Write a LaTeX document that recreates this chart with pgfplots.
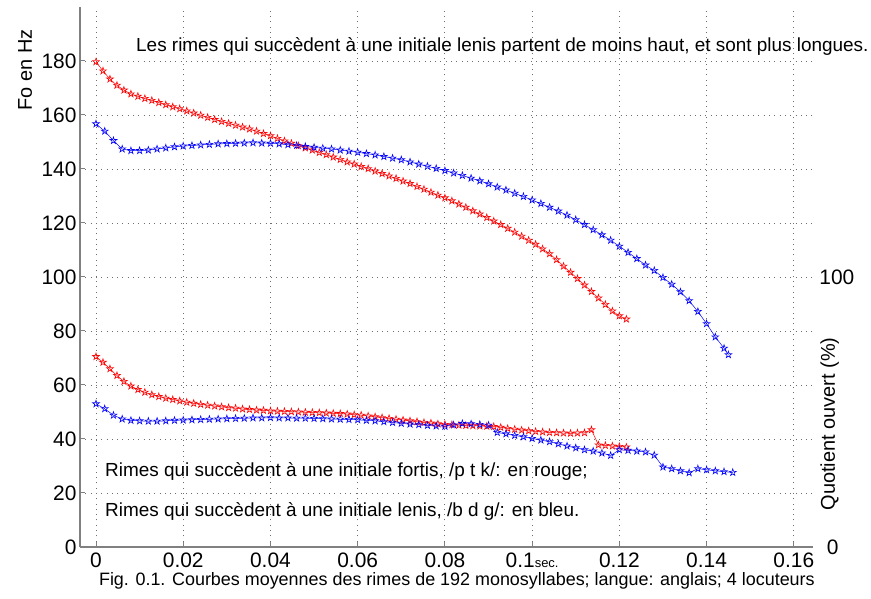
\documentclass[border=0pt]{standalone}
\usepackage{pgfplots}
\pgfplotsset{compat=1.18}
\usepackage{fontspec}
\setmainfont{Liberation Sans}
\definecolor{axgray}{RGB}{128,128,128}
\definecolor{gridgray}{RGB}{110,110,110}
\definecolor{mred}{RGB}{255,0,0}
\definecolor{mblue}{RGB}{0,0,255}
\pgfdeclareplotmark{pentagram}{%
  \pgfpathmoveto{\pgfpointpolar{90}{\pgfplotmarksize}}%
  \pgfpathlineto{\pgfpointpolar{126}{0.382\pgfplotmarksize}}%
  \pgfpathlineto{\pgfpointpolar{162}{\pgfplotmarksize}}%
  \pgfpathlineto{\pgfpointpolar{198}{0.382\pgfplotmarksize}}%
  \pgfpathlineto{\pgfpointpolar{234}{\pgfplotmarksize}}%
  \pgfpathlineto{\pgfpointpolar{270}{0.382\pgfplotmarksize}}%
  \pgfpathlineto{\pgfpointpolar{306}{\pgfplotmarksize}}%
  \pgfpathlineto{\pgfpointpolar{342}{0.382\pgfplotmarksize}}%
  \pgfpathlineto{\pgfpointpolar{18}{\pgfplotmarksize}}%
  \pgfpathlineto{\pgfpointpolar{54}{0.382\pgfplotmarksize}}%
  \pgfpathclose
  \pgfusepathqstroke
}
\begin{document}
\begin{tikzpicture}
\path[use as bounding box] (0,0) rectangle (871bp,599bp);
\begin{axis}[
  at={(80bp,52bp)}, anchor=south west,
  scale only axis, width=733bp, height=540bp,
  xmin=-0.00367, xmax=0.1644, ymin=0, ymax=200,
  axis x line*=bottom, axis y line*=left,
  axis line style={-, axgray, line width=1.4bp},
  xtick={0,0.02,0.04,0.06,0.08,0.1,0.12,0.14,0.16},
  xticklabels={0,0.02,0.04,0.06,0.08,{0.1{\fontsize{13}{15}\selectfont sec.}},0.12,0.14,0.16},
  ytick={0,20,40,60,80,100,120,140,160,180},
  yticklabels={0,20,40,60,80,100,120,140,160,180},
  tick align=inside, major tick length=5bp,
  tick style={axgray, line width=1bp},
  ticklabel style={font=\fontsize{21}{25}\selectfont},
  xticklabel style={yshift=-2bp},
  grid=major,
  major grid style={gridgray, line width=0.9bp, dash pattern=on 1bp off 4.3bp},
  clip=false,
  every axis plot/.append style={line width=0.5bp, mark=pentagram, mark size=3.6bp, mark options={line width=0.6bp}},
]
\addplot[mred] coordinates {
(0,179.7) (0.0016,176.3) (0.0032,173.3) (0.0048,171.0) (0.0064,169.2) (0.0080,167.8) (0.0096,166.9) (0.0112,166.1)
(0.0128,165.4) (0.0144,164.6) (0.0160,163.8) (0.0176,163.0) (0.0192,162.3) (0.0208,161.5) (0.0224,160.7) (0.0240,159.9)
(0.0256,159.1) (0.0272,158.3) (0.0288,157.6) (0.0304,156.9) (0.0320,156.2) (0.0336,155.5) (0.0352,154.8) (0.0368,154.0)
(0.0384,153.1) (0.0400,152.3) (0.0416,151.3) (0.0432,150.4) (0.0448,149.5) (0.0464,148.6) (0.0480,147.8) (0.0496,147.0)
(0.0512,146.1) (0.0528,145.3) (0.0544,144.4) (0.0560,143.5) (0.0576,142.6) (0.0592,141.8) (0.0608,140.9) (0.0624,140.1)
(0.0640,139.2) (0.0656,138.3) (0.0672,137.4) (0.0688,136.5) (0.0704,135.5) (0.0720,134.6) (0.0736,133.5) (0.0752,132.5)
(0.0768,131.4) (0.0784,130.3) (0.0800,129.3) (0.0816,128.2) (0.0832,127.0) (0.0848,125.8) (0.0864,124.5) (0.0880,123.3)
(0.0896,122.0) (0.0912,120.7) (0.0928,119.4) (0.0944,118.0) (0.0960,116.6) (0.0976,115.1) (0.0992,113.6) (0.1008,112.1)
(0.1024,110.4) (0.1040,108.6) (0.1056,106.4) (0.1072,104.0) (0.1088,101.7) (0.1104,99.4) (0.1120,97.0) (0.1136,94.6)
(0.1152,92.2) (0.1168,89.8) (0.1184,87.4) (0.1200,85.6) (0.1216,84.4)
};
\addplot[mred] coordinates {
(0,70.5) (0.0016,68.4) (0.0032,66.0) (0.0048,63.5) (0.0064,61.3) (0.0080,59.6) (0.0096,58.3) (0.0112,57.3)
(0.0128,56.4) (0.0144,55.7) (0.0160,55.1) (0.0176,54.6) (0.0192,54.1) (0.0208,53.6) (0.0224,53.2) (0.0240,52.8)
(0.0256,52.5) (0.0272,52.2) (0.0288,51.9) (0.0304,51.6) (0.0320,51.4) (0.0336,51.1) (0.0352,50.9) (0.0368,50.7)
(0.0384,50.6) (0.0400,50.4) (0.0416,50.3) (0.0432,50.2) (0.0448,50.1) (0.0464,50.0) (0.0480,49.9) (0.0496,49.8)
(0.0512,49.7) (0.0528,49.6) (0.0544,49.5) (0.0560,49.4) (0.0576,49.2) (0.0592,49.0) (0.0608,48.8) (0.0624,48.5)
(0.0640,48.2) (0.0656,47.9) (0.0672,47.6) (0.0688,47.3) (0.0704,47.0) (0.0720,46.7) (0.0736,46.4) (0.0752,46.1)
(0.0768,45.9) (0.0784,45.6) (0.0800,45.4) (0.0816,45.3) (0.0832,45.1) (0.0848,45.0) (0.0864,44.9) (0.0880,44.8)
(0.0896,44.7) (0.0912,44.6) (0.0928,44.3) (0.0944,43.9) (0.0960,43.6) (0.0976,43.3) (0.0992,43.0) (0.1008,42.8)
(0.1024,42.6) (0.1040,42.4) (0.1056,42.3) (0.1072,42.2) (0.1088,42.1) (0.1104,42.2) (0.1120,42.3) (0.1136,43.4)
(0.1152,37.8) (0.1168,37.6) (0.1184,37.4) (0.1200,37.2) (0.1216,37.0)
};
\addplot[mblue] coordinates {
(0,156.7) (0.002,154.0) (0.004,150.5) (0.006,147.4) (0.008,146.8) (0.010,146.8) (0.012,147.0) (0.014,147.4)
(0.016,147.8) (0.018,148.2) (0.020,148.5) (0.022,148.7) (0.024,148.9) (0.026,149.1) (0.028,149.3) (0.030,149.4)
(0.032,149.5) (0.034,149.6) (0.036,149.7) (0.038,149.6) (0.040,149.5) (0.042,149.3) (0.044,149.0) (0.046,148.7)
(0.048,148.3) (0.050,148.0) (0.052,147.7) (0.054,147.4) (0.056,147.0) (0.058,146.6) (0.060,146.2) (0.062,145.7)
(0.064,145.2) (0.066,144.6) (0.068,144.0) (0.070,143.4) (0.072,142.6) (0.074,141.8) (0.076,141.0) (0.078,140.2)
(0.080,139.4) (0.082,138.5) (0.084,137.6) (0.086,136.6) (0.088,135.6) (0.090,134.5) (0.092,133.3) (0.094,132.2)
(0.096,131.0) (0.098,129.8) (0.100,128.5) (0.102,127.2) (0.104,125.8) (0.106,124.4) (0.108,122.9) (0.110,121.2)
(0.112,119.4) (0.114,117.5) (0.116,115.6) (0.118,113.6) (0.120,111.4) (0.122,109.1) (0.124,106.8) (0.126,104.4)
(0.128,102.4) (0.130,99.8) (0.132,97.3) (0.134,94.5) (0.136,91.2) (0.138,87.2) (0.140,82.7) (0.142,77.8)
(0.144,73.6) (0.145,71.2)
};
\addplot[mblue] coordinates {
(0,53.0) (0.002,51.2) (0.004,48.8) (0.006,47.4) (0.008,46.9) (0.010,46.7) (0.012,46.6) (0.014,46.6)
(0.016,46.7) (0.018,46.9) (0.020,47.0) (0.022,47.1) (0.024,47.2) (0.026,47.3) (0.028,47.4) (0.030,47.5)
(0.032,47.6) (0.034,47.7) (0.036,47.8) (0.038,47.8) (0.040,47.9) (0.042,47.8) (0.044,47.8) (0.046,47.7)
(0.048,47.7) (0.050,47.6) (0.052,47.5) (0.054,47.4) (0.056,47.3) (0.058,47.2) (0.060,47.1) (0.062,46.9)
(0.064,46.7) (0.066,46.4) (0.068,46.1) (0.070,45.8) (0.072,45.5) (0.074,45.3) (0.076,45.0) (0.078,44.8)
(0.080,44.7) (0.082,45.2) (0.084,45.7) (0.086,45.6) (0.088,45.4) (0.090,45.1) (0.092,42.4) (0.094,41.9)
(0.096,41.3) (0.098,40.8) (0.100,40.2) (0.102,39.6) (0.104,39.0) (0.106,38.2) (0.108,37.4) (0.110,36.7)
(0.112,36.0) (0.114,35.5) (0.116,34.8) (0.118,33.9) (0.120,36.0) (0.122,35.8) (0.124,35.5) (0.126,35.2)
(0.128,34.0) (0.130,29.6) (0.132,29.0) (0.134,28.2) (0.136,27.5) (0.138,29.0) (0.140,28.6) (0.142,28.2)
(0.144,27.9) (0.146,27.6)
};
\node[font=\fontsize{19}{22}\selectfont, anchor=center] at (axis cs:0.09318,185.2) {Les rimes qui succèdent à une initiale lenis partent de moins haut, et sont plus longues.};
\node[font=\fontsize{19}{22}\selectfont, anchor=west, inner sep=0pt] at (axis cs:0.00206,27.8) {Rimes qui succèdent à une initiale fortis, /p t k/: en rouge;};
\node[font=\fontsize{19}{22}\selectfont, anchor=west, inner sep=0pt] at (axis cs:0.00206,13.0) {Rimes qui succèdent à une initiale lenis, /b d g/: en bleu.};
\node[font=\fontsize{20}{24}\selectfont, rotate=90, anchor=center] at (axis cs:-0.01628,176.7) {Fo en Hz};
\node[font=\fontsize{20}{24}\selectfont, rotate=90, anchor=center] at (axis cs:0.16825,45.6) {Quotient ouvert (\%)};
\node[font=\fontsize{21}{25}\selectfont, anchor=center] at (axis cs:0.16986,100) {100};
\node[font=\fontsize{21}{25}\selectfont, anchor=center] at (axis cs:0.16894,0) {0};
\node[font=\fontsize{18}{21}\selectfont, anchor=center] at (axis cs:0.08275,-12.6) {Fig. 0.1. Courbes moyennes des rimes de 192 monosyllabes; langue: anglais; 4 locuteurs};
\end{axis}
\end{tikzpicture}
\end{document}
